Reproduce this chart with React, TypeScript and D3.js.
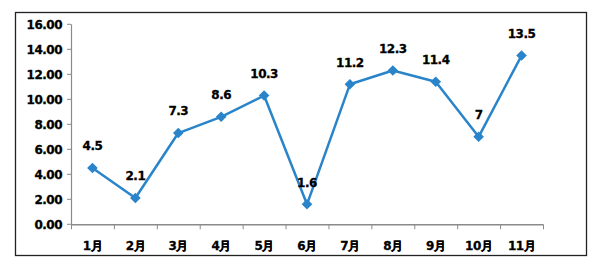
import React from "react";
import * as d3 from "d3";

const categories = ["1月", "2月", "3月", "4月", "5月", "6月", "7月", "8月", "9月", "10月", "11月"];
const values = [4.5, 2.1, 7.3, 8.6, 10.3, 1.6, 11.2, 12.3, 11.4, 7, 13.5];
const valueLabels = ["4.5", "2.1", "7.3", "8.6", "10.3", "1.6", "11.2", "12.3", "11.4", "7", "13.5"];
const yTicks = [0, 2, 4, 6, 8, 10, 12, 14, 16];

const W = 606;
const H = 268;
const left = 71;
const right = 543;
const top = 24.3;
const bottom = 224.3;
const color = "#2a84ca";
const font = "'DejaVu Sans', Verdana, sans-serif";

export default function App() {
  const x = d3.scaleBand<string>().domain(categories).range([left, right]).padding(0);
  const y = d3.scaleLinear().domain([0, 16]).range([bottom, top]);
  const cx = (c: string) => (x(c) as number) + x.bandwidth() / 2;
  const line = d3
    .line<number>()
    .x((_, i) => cx(categories[i]))
    .y((d) => y(d));
  const diamond = d3.symbol().type(d3.symbolDiamond2).size(72)();
  const boundaries = d3.range(categories.length + 1).map((i) => left + i * x.bandwidth());
  const textProps = {
    fontFamily: font,
    fontWeight: "bold" as const,
    fontSize: 12,
    letterSpacing: -0.5,
    fill: "#000",
    stroke: "#000",
    strokeWidth: 0.3,
  };

  return (
    <svg width={W} height={H} style={{ position: "absolute", left: 0, top: 0, background: "#fff" }}>
      <rect x={15.5} y={12.5} width={571} height={243} fill="#fff" stroke="#222" strokeWidth={1.3} />
      <line x1={left + 0.5} x2={left + 0.5} y1={top} y2={bottom} stroke="#8a8a8a" strokeWidth={1.2} />
      {yTicks.map((t) => (
        <g key={t}>
          <line x1={left - 4} x2={left} y1={y(t)} y2={y(t)} stroke="#8a8a8a" strokeWidth={1} />
          <text x={62} y={y(t)} dy="0.36em" textAnchor="end" {...textProps}>
            {t.toFixed(2)}
          </text>
        </g>
      ))}
      <line x1={left} x2={right} y1={bottom + 0.5} y2={bottom + 0.5} stroke="#8a8a8a" strokeWidth={1.4} />
      {boundaries.map((b, i) => (
        <line key={i} x1={b + 0.5} x2={b + 0.5} y1={bottom} y2={bottom + 5} stroke="#8a8a8a" strokeWidth={1} />
      ))}
      {categories.map((c) => (
        <text key={c} x={cx(c)} y={250} textAnchor="middle" {...textProps}>
          {c}
        </text>
      ))}
      <path d={line(values) || ""} fill="none" stroke={color} strokeWidth={2.5} strokeLinejoin="round" />
      {values.map((v, i) => (
        <path key={i} d={diamond || ""} transform={`translate(${cx(categories[i])},${y(v)})`} fill={color} />
      ))}
      {values.map((v, i) => (
        <text key={"l" + i} x={cx(categories[i])} y={y(v) - 22} dy="0.36em" textAnchor="middle" {...textProps}>
          {valueLabels[i]}
        </text>
      ))}
    </svg>
  );
}
